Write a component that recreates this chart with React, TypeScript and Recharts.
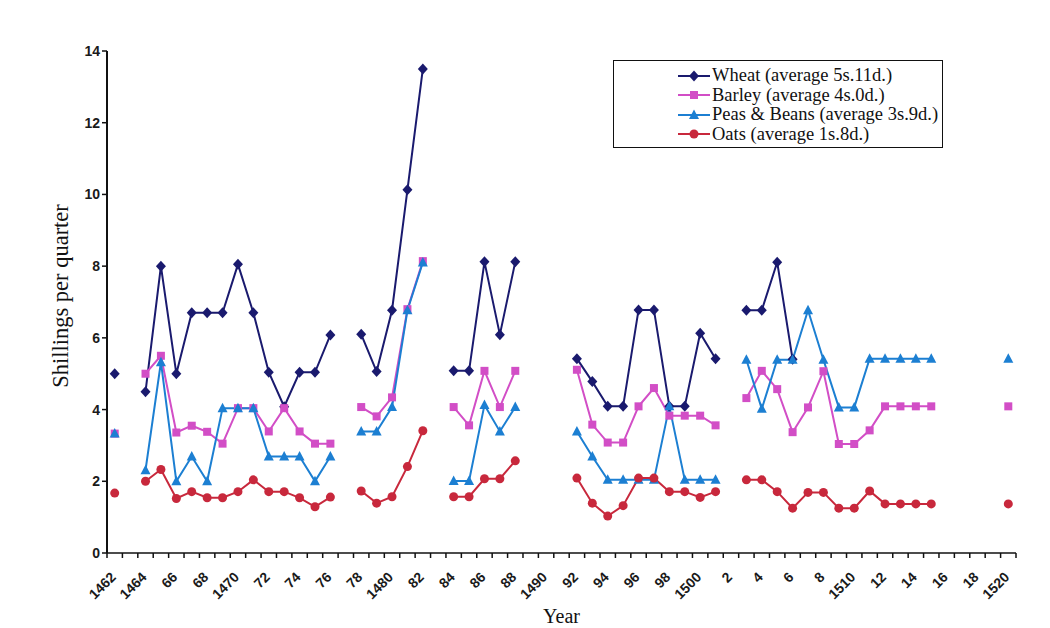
import React from "react";
import { LineChart, Line, XAxis, YAxis, Legend, Label } from "recharts";

// Prices of grain, shillings per quarter, 1462-1520 (null = no record)
const years = [
  1462, 1463, 1464, 1465, 1466, 1467, 1468, 1469, 1470, 1471,
  1472, 1473, 1474, 1475, 1476, 1477, 1478, 1479, 1480, 1481,
  1482, 1483, 1484, 1485, 1486, 1487, 1488, 1489, 1490, 1491,
  1492, 1493, 1494, 1495, 1496, 1497, 1498, 1499, 1500, 1501,
  1502, 1503, 1504, 1505, 1506, 1507, 1508, 1509, 1510, 1511,
  1512, 1513, 1514, 1515, 1516, 1517, 1518, 1519, 1520,
];

const wheat = [
  5.0, null, 4.5, 8.0, 5.0, 6.7, 6.7, 6.7, 8.05, 6.7,
  5.04, 4.08, 5.04, 5.04, 6.08, null, 6.1, 5.06, 6.77, 10.13,
  13.5, null, 5.08, 5.08, 8.12, 6.09, 8.12, null, null, null,
  5.42, 4.78, 4.09, 4.09, 6.78, 6.78, 4.09, 4.09, 6.13, 5.42,
  null, 6.77, 6.77, 8.11, 5.4, null, null, null, null, null,
  null, null, null, null, null, null, null, null, null,
];

const barley = [
  3.33, null, 5.0, 5.5, 3.36, 3.55, 3.38, 3.05, 4.04, 4.04,
  3.39, 4.04, 3.39, 3.05, 3.05, null, 4.07, 3.81, 4.34, 6.8,
  8.14, null, 4.07, 3.56, 5.08, 4.07, 5.08, null, null, null,
  5.11, 3.58, 3.08, 3.08, 4.09, 4.6, 3.83, 3.83, 3.83, 3.56,
  null, 4.32, 5.08, 4.57, 3.37, 4.06, 5.07, 3.04, 3.04, 3.42,
  4.09, 4.09, 4.09, 4.09, null, null, null, null, 4.09,
];

const peas = [
  3.33, null, 2.31, 5.32, 2.0, 2.69, 2.0, 4.04, 4.04, 4.04,
  2.69, 2.69, 2.69, 2.0, 2.69, null, 3.39, 3.39, 4.07, 6.77,
  8.1, null, 2.01, 2.01, 4.13, 3.39, 4.07, null, null, null,
  3.39, 2.69, 2.04, 2.04, 2.04, 2.04, 4.09, 2.04, 2.04, 2.04,
  null, 5.39, 4.02, 5.39, 5.39, 6.77, 5.39, 4.06, 4.06, 5.42,
  5.42, 5.42, 5.42, 5.42, null, null, null, null, 5.42,
];

const oats = [
  1.67, null, 2.0, 2.33, 1.52, 1.71, 1.54, 1.54, 1.71, 2.04,
  1.71, 1.71, 1.54, 1.29, 1.56, null, 1.73, 1.39, 1.57, 2.41,
  3.41, null, 1.57, 1.57, 2.07, 2.07, 2.57, null, null, null,
  2.09, 1.39, 1.03, 1.32, 2.09, 2.09, 1.71, 1.71, 1.55, 1.71,
  null, 2.04, 2.04, 1.71, 1.25, 1.69, 1.69, 1.25, 1.25, 1.73,
  1.37, 1.37, 1.37, 1.37, null, null, null, null, 1.37,
];

const yTicks = [0, 2, 4, 6, 8, 10, 12, 14];

const series = [
  { key: "wheat", name: "Wheat (average 5s.11d.)", color: "#1a1a6e", shape: "diamond" },
  { key: "barley", name: "Barley (average 4s.0d.)", color: "#d24ec6", shape: "square" },
  { key: "peas", name: "Peas & Beans (average 3s.9d.)", color: "#1c7fd2", shape: "triangle" },
  { key: "oats", name: "Oats (average 1s.8d.)", color: "#c8283c", shape: "circle" },
];

const data = years.map((year, i) => ({
  year,
  wheat: wheat[i],
  barley: barley[i],
  peas: peas[i],
  oats: oats[i],
}));

// category boundaries for the tick marks (Excel-style "between categories")
const boundaries = [...years.map((y) => y - 0.5), years[years.length - 1] + 0.5];

const W = 1050;
const H = 628;
const MARGIN = { top: 51, right: 34, left: 0, bottom: 0 };
const Y_AXIS_W = 107;
const CAT_W = (W - MARGIN.left - MARGIN.right - Y_AXIS_W) / years.length;

const sans = "'Liberation Sans', Arial, sans-serif";
const serif = "'Liberation Serif', 'Times New Roman', serif";

function Marker({ shape, color, cx, cy }: any) {
  if (shape === "diamond")
    return (
      <polygon
        points={`${cx},${cy - 5.5} ${cx + 5},${cy} ${cx},${cy + 5.5} ${cx - 5},${cy}`}
        fill={color}
      />
    );
  if (shape === "square")
    return <rect x={cx - 4} y={cy - 4} width={8} height={8} fill={color} />;
  if (shape === "triangle")
    return (
      <polygon
        points={`${cx},${cy - 5.5} ${cx + 5},${cy + 4} ${cx - 5},${cy + 4}`}
        fill={color}
      />
    );
  return <circle cx={cx} cy={cy} r={4.5} fill={color} />;
}

const makeDot = (shape: string, color: string) => (props: any) => {
  const { cx, cy, value, index } = props;
  if (cx == null || cy == null || value == null) return <g key={index} />;
  return (
    <g key={index}>
      <Marker shape={shape} color={color} cx={cx} cy={cy} />
    </g>
  );
};

const yearLabel = (year: number) =>
  year % 10 === 0 || year < 1465 ? String(year) : String(year % 100);

function YearTick({ x, y, payload }: any) {
  const year = payload.value + 0.5;
  if (year % 2 !== 0 || year > years[years.length - 1]) return <g />;
  const tx = x + CAT_W / 2 + 2;
  const ty = y + 18;
  return (
    <text
      x={tx}
      y={ty}
      transform={`rotate(-45 ${tx} ${ty})`}
      textAnchor="end"
      fontFamily={sans}
      fontSize={14}
      fontWeight="bold"
      fill="#1a1a1a"
    >
      {yearLabel(year)}
    </text>
  );
}

function YTitle({ viewBox }: any) {
  const x = viewBox.x + 68;
  const y = viewBox.y + viewBox.height / 2 - 6;
  return (
    <text
      x={x}
      y={y}
      transform={`rotate(-90 ${x} ${y})`}
      textAnchor="middle"
      fontFamily={serif}
      fontSize={22.5}
      fill="#111"
    >
      Shillings per quarter
    </text>
  );
}

function XTitle({ viewBox }: any) {
  return (
    <text
      x={viewBox.x + viewBox.width / 2}
      y={viewBox.y + viewBox.height - 5}
      textAnchor="middle"
      fontFamily={serif}
      fontSize={20}
      fill="#111"
    >
      Year
    </text>
  );
}

// legend keeps the order of the series, not alphabetical
function LegendBox() {
  return (
    <div
      style={{
        border: "1.5px solid #111",
        boxSizing: "border-box",
        width: 330,
        height: 88,
        padding: "5px 0 0 63px",
        background: "#fff",
        fontFamily: serif,
        fontSize: 18.5,
        color: "#111",
      }}
    >
      {series.map((s) => (
        <div key={s.key} style={{ display: "flex", alignItems: "center", height: 19.5 }}>
          <svg width={34} height={14} style={{ marginRight: 1 }}>
            <line x1={1} y1={7} x2={33} y2={7} stroke={s.color} strokeWidth={2} />
            <Marker shape={s.shape} color={s.color} cx={17} cy={7} />
          </svg>
          <span style={{ whiteSpace: "nowrap" }}>{s.name}</span>
        </div>
      ))}
    </div>
  );
}

export default function App() {
  return (
    <div style={{ position: "absolute", left: 0, top: 0, width: W, height: H, background: "#fff" }}>
      <LineChart width={W} height={H} data={data} margin={MARGIN}>
        <XAxis
          dataKey="year"
          type="number"
          domain={[boundaries[0], boundaries[boundaries.length - 1]]}
          ticks={boundaries}
          interval={0}
          height={75}
          tickSize={5}
          tick={<YearTick />}
          axisLine={{ stroke: "#111", strokeWidth: 1.5 }}
          tickLine={{ stroke: "#111", strokeWidth: 1.5 }}
        >
          <Label content={<XTitle />} />
        </XAxis>
        <YAxis
          domain={[0, 14]}
          ticks={yTicks}
          width={Y_AXIS_W}
          tickSize={5}
          interval={0}
          axisLine={{ stroke: "#111", strokeWidth: 2 }}
          tickLine={{ stroke: "#111", strokeWidth: 1.5 }}
          tick={{ fontFamily: sans, fontSize: 14, fontWeight: "bold", fill: "#1a1a1a" }}
        >
          <Label content={<YTitle />} />
        </YAxis>
        <Legend
          layout="horizontal"
          verticalAlign="middle"
          align="center"
          content={<LegendBox />}
          wrapperStyle={{ left: 613, top: 60, width: 330, height: 88 }}
        />
        {series.map((s) => (
          <Line
            key={s.key}
            dataKey={s.key}
            name={s.name}
            stroke={s.color}
            strokeWidth={2}
            dot={makeDot(s.shape, s.color)}
            activeDot={false}
            connectNulls={false}
            isAnimationActive={false}
          />
        ))}
      </LineChart>
    </div>
  );
}
